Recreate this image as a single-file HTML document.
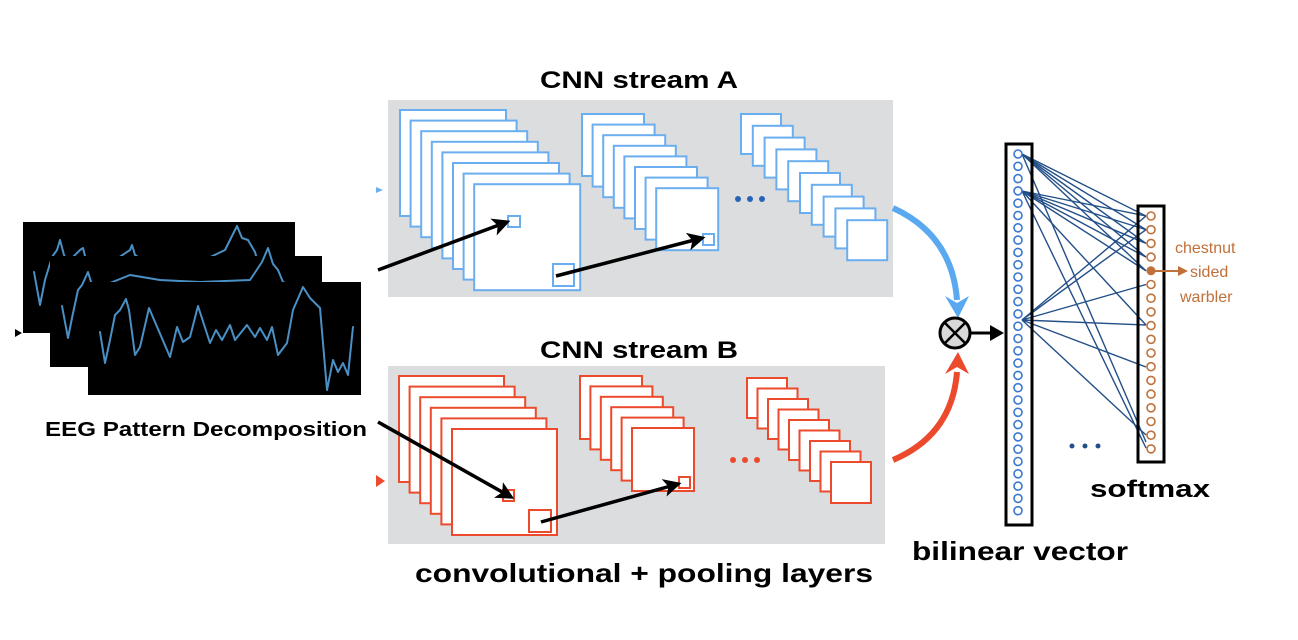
<!DOCTYPE html>
<html><head><meta charset="utf-8"><style>
html,body{margin:0;padding:0;background:#fff;width:1298px;height:640px;overflow:hidden}
text{font-family:"Liberation Sans",Arial,sans-serif;font-weight:bold}
</style></head><body>
<svg width="1298" height="640" viewBox="0 0 1298 640" xmlns="http://www.w3.org/2000/svg">
<defs>
<marker id="ak" viewBox="0 0 10 10" markerWidth="24" markerHeight="18" refX="8" refY="5" orient="auto" markerUnits="userSpaceOnUse"><path d="M0,0 L10,5 L0,10 L2.5,5 z" fill="#000"/></marker>
</defs>

<!-- EEG panels -->
<g stroke-linejoin="round" stroke-linecap="round">
<rect x="23" y="222" width="272" height="111" fill="#000"/>
<polyline fill="none" stroke="#4a90c4" stroke-width="2" points="34,272 40,305 45,280 52,257 57,250 60,240 64,255 68,262 80,250 83,248 86,260 100,270 130,250 132,245 135,255 150,265 180,270 200,262 225,250 230,240 237,226 242,238 248,240 255,252 260,270 285,275"/>
<rect x="50" y="256" width="272" height="111" fill="#000"/>
<polyline fill="none" stroke="#4a90c4" stroke-width="2" points="62,306 68,338 72,318 78,290 82,285 88,272 92,285 100,300 110,283 130,275 160,280 200,282 250,280 262,262 268,248 273,264 278,270 283,282 290,285"/>
<rect x="88" y="282" width="273" height="113" fill="#000"/>
<polyline fill="none" stroke="#4a90c4" stroke-width="2" points="100,332 105,363 110,340 115,315 120,310 126,299 129,310 135,355 140,347 149,308 155,322 170,357 177,327 183,342 190,337 198,306 210,343 216,330 222,340 230,325 235,340 247,325 255,337 260,328 267,340 272,327 278,355 287,343 293,310 303,287 310,298 320,308 327,390 333,360 338,372 343,363 348,375 353,327"/>
</g>
<path d="M15,329 L22,333 L15,337z" fill="#000"/>
<text x="45" y="436" font-size="20" textLength="322" lengthAdjust="spacingAndGlyphs">EEG Pattern Decomposition</text>

<!-- Stream A -->
<text x="540" y="88" font-size="24" textLength="198" lengthAdjust="spacingAndGlyphs">CNN stream A</text>
<rect x="388" y="100" width="505" height="197" fill="#dcdddf"/>
<g fill="#fff" stroke="#6aaef0" stroke-width="2">
<rect x="400" y="110" width="106" height="106"/><rect x="410.6" y="120.6" width="106" height="106"/><rect x="421.2" y="131.2" width="106" height="106"/><rect x="431.8" y="141.8" width="106" height="106"/><rect x="442.4" y="152.4" width="106" height="106"/><rect x="453" y="163" width="106" height="106"/><rect x="463.6" y="173.6" width="106" height="106"/><rect x="474.2" y="184.2" width="106" height="106"/>
<rect x="508" y="216" width="12" height="11"/><rect x="553" y="264" width="21" height="22"/>
<rect x="582" y="114" width="62" height="62"/><rect x="592.6" y="124.6" width="62" height="62"/><rect x="603.2" y="135.2" width="62" height="62"/><rect x="613.8" y="145.8" width="62" height="62"/><rect x="624.4" y="156.4" width="62" height="62"/><rect x="635" y="167" width="62" height="62"/><rect x="645.6" y="177.6" width="62" height="62"/><rect x="656.2" y="188.2" width="62" height="62"/>
<rect x="703" y="234" width="11" height="11"/>
<rect x="741" y="114" width="40" height="40"/><rect x="752.8" y="125.8" width="40" height="40"/><rect x="764.6" y="137.6" width="40" height="40"/><rect x="776.4" y="149.4" width="40" height="40"/><rect x="788.2" y="161.2" width="40" height="40"/><rect x="800" y="173" width="40" height="40"/><rect x="811.8" y="184.8" width="40" height="40"/><rect x="823.6" y="196.6" width="40" height="40"/><rect x="835.4" y="208.4" width="40" height="40"/><rect x="847.2" y="220.2" width="40" height="40"/>
</g>
<g fill="#2a64b8"><circle cx="738" cy="199" r="3"/><circle cx="750" cy="199" r="3"/><circle cx="762" cy="199" r="3"/></g>
<path d="M376,187 L383,190 L376,193z" fill="#6aaef0"/>
<line x1="378" y1="270" x2="507" y2="222" stroke="#000" stroke-width="3.5" marker-end="url(#ak)"/>
<line x1="556" y1="276" x2="702" y2="238" stroke="#000" stroke-width="3.5" marker-end="url(#ak)"/>

<!-- Stream B -->
<text x="540" y="358" font-size="24" textLength="198" lengthAdjust="spacingAndGlyphs">CNN stream B</text>
<rect x="388" y="366" width="497" height="178" fill="#dcdddf"/>
<g fill="#fff" stroke="#ec4a2c" stroke-width="2">
<rect x="399" y="376" width="105" height="106"/><rect x="409.6" y="386.6" width="105" height="106"/><rect x="420.2" y="397.2" width="105" height="106"/><rect x="430.8" y="407.8" width="105" height="106"/><rect x="441.4" y="418.4" width="105" height="106"/><rect x="452" y="429" width="105" height="106"/>
<rect x="503" y="490" width="11" height="11"/><rect x="529" y="510" width="22" height="22"/>
<rect x="580" y="376" width="62" height="63"/><rect x="590.4" y="386.4" width="62" height="63"/><rect x="600.8" y="396.8" width="62" height="63"/><rect x="611.2" y="407.2" width="62" height="63"/><rect x="621.6" y="417.6" width="62" height="63"/><rect x="632" y="428" width="62" height="63"/>
<rect x="679" y="477" width="11" height="11"/>
<rect x="747" y="378" width="40" height="40"/><rect x="757.5" y="388.5" width="40" height="40"/><rect x="768" y="399" width="40" height="40"/><rect x="778.5" y="409.5" width="40" height="40"/><rect x="789" y="420" width="40" height="40"/><rect x="799.5" y="430.5" width="40" height="40"/><rect x="810" y="441" width="40" height="40"/><rect x="820.5" y="451.5" width="40" height="40"/><rect x="831" y="462" width="40" height="41"/>
</g>
<g fill="#ec4a2c"><circle cx="733" cy="460" r="3"/><circle cx="745" cy="460" r="3"/><circle cx="757" cy="460" r="3"/></g>
<path d="M376,475 L385,481 L376,487z" fill="#ec4a2c"/>
<line x1="378" y1="422" x2="511" y2="497" stroke="#000" stroke-width="3.5" marker-end="url(#ak)"/>
<line x1="541" y1="522" x2="678" y2="484" stroke="#000" stroke-width="3.5" marker-end="url(#ak)"/>
<text x="415" y="582" font-size="26" textLength="458" lengthAdjust="spacingAndGlyphs">convolutional + pooling layers</text>

<!-- curved arrows -->
<path d="M893,208 Q952,235 957,300" fill="none" stroke="#5aa9f0" stroke-width="6"/>
<path d="M945,296 L958,318 L969,296 L957,303z" fill="#5aa9f0"/>
<path d="M893,460 Q952,435 957,372" fill="none" stroke="#ec4a2c" stroke-width="6"/>
<path d="M945,374 L958,352 L969,374 L957,367z" fill="#ec4a2c"/>

<!-- otimes -->
<circle cx="955" cy="333" r="15" fill="#d8d8d8" stroke="#000" stroke-width="3"/>
<line x1="945" y1="323" x2="965" y2="343" stroke="#000" stroke-width="2.5"/>
<line x1="965" y1="323" x2="945" y2="343" stroke="#000" stroke-width="2.5"/>
<line x1="970" y1="333" x2="992" y2="333" stroke="#000" stroke-width="3"/>
<path d="M990,325 L1004,333 L990,341z" fill="#000"/>

<!-- connections -->
<g stroke="#234f88" stroke-width="1.4">
<line x1="1022" y1="154" x2="1146" y2="216"/><line x1="1022" y1="154" x2="1146" y2="229.7"/><line x1="1022" y1="154" x2="1146" y2="243.4"/><line x1="1022" y1="154" x2="1146" y2="257.1"/><line x1="1022" y1="154" x2="1146" y2="270.8"/><line x1="1022" y1="154" x2="1146" y2="442"/>
<line x1="1022" y1="191" x2="1146" y2="216"/><line x1="1022" y1="191" x2="1146" y2="229.7"/><line x1="1022" y1="191" x2="1146" y2="243.4"/><line x1="1022" y1="191" x2="1146" y2="257.1"/><line x1="1022" y1="191" x2="1146" y2="270.8"/><line x1="1022" y1="191" x2="1146" y2="325"/><line x1="1022" y1="191" x2="1146" y2="448"/>
<line x1="1022" y1="320" x2="1146" y2="216"/><line x1="1022" y1="320" x2="1146" y2="229.7"/><line x1="1022" y1="320" x2="1146" y2="284.5"/><line x1="1022" y1="320" x2="1146" y2="325"/><line x1="1022" y1="320" x2="1146" y2="367"/><line x1="1022" y1="320" x2="1146" y2="435"/>
</g>

<!-- bilinear vector -->
<rect x="1006" y="144" width="26" height="381" fill="none" stroke="#000" stroke-width="3"/>
<g fill="#fff" stroke="#3a78d0" stroke-width="1.6">
<circle cx="1018" cy="154" r="4"/><circle cx="1018" cy="166.3" r="4"/><circle cx="1018" cy="178.6" r="4"/><circle cx="1018" cy="190.9" r="4"/><circle cx="1018" cy="203.2" r="4"/><circle cx="1018" cy="215.5" r="4"/><circle cx="1018" cy="227.8" r="4"/><circle cx="1018" cy="240.1" r="4"/><circle cx="1018" cy="252.4" r="4"/><circle cx="1018" cy="264.7" r="4"/><circle cx="1018" cy="277" r="4"/><circle cx="1018" cy="289.3" r="4"/><circle cx="1018" cy="301.6" r="4"/><circle cx="1018" cy="313.9" r="4"/><circle cx="1018" cy="326.2" r="4"/><circle cx="1018" cy="338.5" r="4"/><circle cx="1018" cy="350.8" r="4"/><circle cx="1018" cy="363.1" r="4"/><circle cx="1018" cy="375.4" r="4"/><circle cx="1018" cy="387.7" r="4"/><circle cx="1018" cy="400" r="4"/><circle cx="1018" cy="412.3" r="4"/><circle cx="1018" cy="424.6" r="4"/><circle cx="1018" cy="436.9" r="4"/><circle cx="1018" cy="449.2" r="4"/><circle cx="1018" cy="461.5" r="4"/><circle cx="1018" cy="473.8" r="4"/><circle cx="1018" cy="486.1" r="4"/><circle cx="1018" cy="498.4" r="4"/><circle cx="1018" cy="510.7" r="4"/>
</g>

<!-- softmax -->
<rect x="1138" y="206" width="26" height="256" fill="none" stroke="#000" stroke-width="3"/>
<g fill="#fff" stroke="#c0703a" stroke-width="1.6">
<circle cx="1151" cy="216" r="4"/><circle cx="1151" cy="229.7" r="4"/><circle cx="1151" cy="243.4" r="4"/><circle cx="1151" cy="257.1" r="4"/><circle cx="1151" cy="284.5" r="4"/><circle cx="1151" cy="298.2" r="4"/><circle cx="1151" cy="311.9" r="4"/><circle cx="1151" cy="325.6" r="4"/><circle cx="1151" cy="339.3" r="4"/><circle cx="1151" cy="353" r="4"/><circle cx="1151" cy="366.7" r="4"/><circle cx="1151" cy="380.4" r="4"/><circle cx="1151" cy="394.1" r="4"/><circle cx="1151" cy="407.8" r="4"/><circle cx="1151" cy="421.5" r="4"/><circle cx="1151" cy="435.2" r="4"/><circle cx="1151" cy="448.9" r="4"/>
</g>
<circle cx="1151" cy="270.8" r="4.5" fill="#c0703a"/>
<line x1="1151" y1="271" x2="1180" y2="271" stroke="#c0703a" stroke-width="2"/>
<path d="M1178,266 L1188,271 L1178,276z" fill="#c0703a"/>
<g fill="#c0703a" font-size="16">
<text x="1175" y="253" style="font-weight:normal">chestnut</text>
<text x="1190" y="277" style="font-weight:normal">sided</text>
<text x="1180" y="302" style="font-weight:normal">warbler</text>
</g>
<g fill="#234f88"><circle cx="1072" cy="446" r="2.5"/><circle cx="1085" cy="446" r="2.5"/><circle cx="1098" cy="446" r="2.5"/></g>
<text x="1090" y="497" font-size="24" textLength="120" lengthAdjust="spacingAndGlyphs">softmax</text>
<text x="912" y="560" font-size="26" textLength="216" lengthAdjust="spacingAndGlyphs">bilinear vector</text>
</svg>
</body></html>
